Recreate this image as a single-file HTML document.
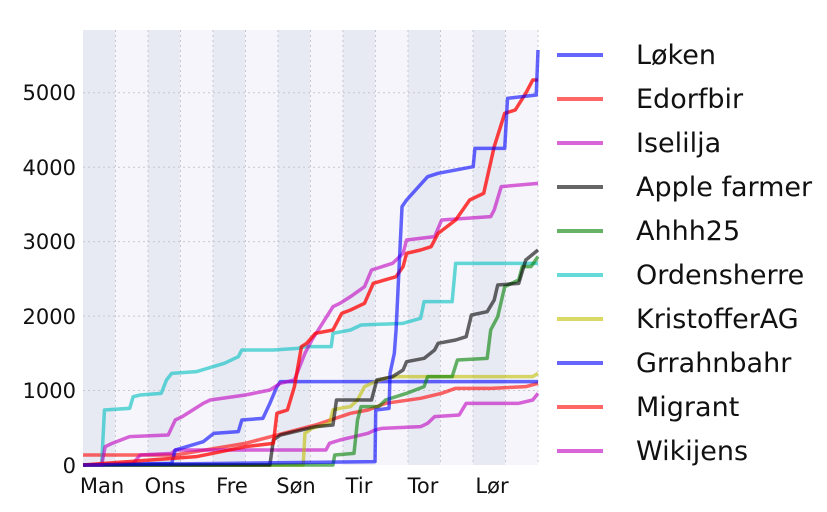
<!DOCTYPE html>
<html><head><meta charset="utf-8"><style>
html,body{margin:0;padding:0;background:#fff;width:827px;height:512px;overflow:hidden}
svg{position:absolute;left:0;top:0}
text{font-family:"DejaVu Sans","Liberation Sans",sans-serif;fill:#111}
</style></head><body>
<svg width="827" height="512" viewBox="0 0 827 512">
<rect x="83" y="30" width="455" height="435" fill="#f5f5fb"/>
<g fill="#e7e9f3">
<rect x="83" y="30" width="32" height="435"/><rect x="148" y="30" width="32" height="435"/>
<rect x="213" y="30" width="32" height="435"/><rect x="278" y="30" width="32" height="435"/>
<rect x="343" y="30" width="32" height="435"/><rect x="408" y="30" width="32" height="435"/>
<rect x="473" y="30" width="32" height="435"/>
</g>
<g stroke="#c8c8d0" stroke-width="1" stroke-dasharray="2,3">
<line x1="83" x2="538" y1="92.7" y2="92.7"/><line x1="83" x2="538" y1="167.2" y2="167.2"/>
<line x1="83" x2="538" y1="241.6" y2="241.6"/><line x1="83" x2="538" y1="316.1" y2="316.1"/>
<line x1="83" x2="538" y1="390.5" y2="390.5"/>
<line x1="115.5" x2="115.5" y1="30" y2="465"/><line x1="148" x2="148" y1="30" y2="465"/>
<line x1="180.5" x2="180.5" y1="30" y2="465"/><line x1="213" x2="213" y1="30" y2="465"/>
<line x1="245.5" x2="245.5" y1="30" y2="465"/><line x1="278" x2="278" y1="30" y2="465"/>
<line x1="310.5" x2="310.5" y1="30" y2="465"/><line x1="343" x2="343" y1="30" y2="465"/>
<line x1="375.5" x2="375.5" y1="30" y2="465"/><line x1="408" x2="408" y1="30" y2="465"/>
<line x1="440.5" x2="440.5" y1="30" y2="465"/><line x1="473" x2="473" y1="30" y2="465"/>
<line x1="505.5" x2="505.5" y1="30" y2="465"/><line x1="538" x2="538" y1="30" y2="465"/>
</g>
<g transform="translate(0,20) scale(0.3505,0.33333)" fill="none" stroke-width="3.5" stroke-linejoin="round" stroke-opacity="0.6">
<polyline vector-effect="non-scaling-stroke" stroke="#ff0000" points="237,1305 500,1305 700,1270 900,1215 1000,1180 1050,1170 1100,1150 1200,1135 1260,1120 1300,1105 1400,1105 1500,1100 1535,1090"/>
<polyline vector-effect="non-scaling-stroke" stroke="#bf00bf" points="237,1335 380,1330 400,1305 490,1300 500,1290 930,1290 940,1270 970,1260 1010,1250 1050,1240 1070,1230 1090,1225 1200,1220 1220,1210 1240,1190 1310,1185 1330,1150 1480,1150 1520,1140 1535,1120"/>
<polyline vector-effect="non-scaling-stroke" stroke="#0000ff" points="237,1335 490,1330 500,1290 580,1265 610,1240 680,1235 690,1200 750,1195 770,1150 790,1100 800,1085 850,1085 1535,1085"/>
<polyline vector-effect="non-scaling-stroke" stroke="#bfbf00" points="237,1335 865,1335 870,1240 890,1225 940,1210 950,1170 970,1165 1000,1160 1020,1140 1040,1100 1070,1085 1100,1075 1130,1070 1520,1070 1535,1060"/>
<polyline vector-effect="non-scaling-stroke" stroke="#00bfbf" points="237,1335 290,1335 298,1170 370,1165 380,1130 400,1125 460,1120 475,1080 490,1060 560,1055 640,1030 680,1010 690,990 780,990 850,985 870,980 945,980 950,940 1000,930 1030,915 1150,910 1200,895 1210,845 1290,845 1300,730 1535,730"/>
<polyline vector-effect="non-scaling-stroke" stroke="#008000" points="237,1335 950,1335 955,1305 1010,1300 1020,1200 1030,1160 1080,1160 1100,1140 1160,1120 1210,1100 1220,1070 1290,1070 1305,1020 1390,1015 1400,930 1420,890 1440,800 1480,780 1490,740 1515,740 1535,710"/>
<polyline vector-effect="non-scaling-stroke" stroke="#000000" points="237,1335 770,1335 780,1260 800,1245 900,1220 950,1215 960,1140 1060,1140 1075,1080 1120,1070 1150,1050 1160,1025 1210,1015 1240,990 1250,970 1300,960 1330,950 1345,885 1390,875 1410,840 1420,795 1480,790 1500,720 1535,690"/>
<polyline vector-effect="non-scaling-stroke" stroke="#bf00bf" points="237,1335 290,1335 300,1280 320,1270 370,1250 480,1245 500,1200 520,1190 550,1170 580,1150 600,1140 700,1125 770,1110 800,1090 840,1080 870,1000 890,960 950,860 970,850 1000,830 1040,800 1060,750 1120,730 1150,700 1160,660 1240,650 1260,600 1400,590 1410,570 1430,500 1535,490"/>
<polyline vector-effect="non-scaling-stroke" stroke="#ff0000" stroke-opacity="0.75" points="237,1335 560,1310 700,1280 780,1270 790,1180 820,1170 840,1100 860,980 875,970 900,940 950,930 975,880 1000,870 1040,850 1065,790 1130,770 1150,740 1160,700 1200,690 1230,680 1250,640 1300,600 1340,540 1380,520 1410,380 1440,280 1470,270 1500,220 1520,180 1535,180"/>
<polyline vector-effect="non-scaling-stroke" stroke="#0000ff" points="237,1335 1070,1325 1072,1170 1110,1165 1113,1059 1125,1000 1130,930 1147,560 1160,540 1220,470 1250,460 1350,440 1355,385 1440,385 1448,235 1530,225 1535,90"/>
</g>
<g font-size="21" text-anchor="end">
<text x="76" y="473">0</text><text x="76" y="398">1000</text><text x="76" y="324">2000</text>
<text x="76" y="249">3000</text><text x="76" y="175">4000</text><text x="76" y="100">5000</text>
</g>
<g font-size="21" text-anchor="middle">
<text x="102" y="493">Man</text><text x="165" y="493">Ons</text><text x="232" y="493">Fre</text>
<text x="296" y="493">Søn</text><text x="359" y="493">Tir</text><text x="423" y="493">Tor</text><text x="492" y="493">Lør</text>
</g>
<g stroke-width="4" stroke-opacity="0.6">
<line x1="557" x2="603" y1="55" y2="55" stroke="#0000ff"/>
<line x1="557" x2="603" y1="99" y2="99" stroke="#ff0000"/>
<line x1="557" x2="603" y1="143" y2="143" stroke="#bf00bf"/>
<line x1="557" x2="603" y1="187" y2="187" stroke="#000"/>
<line x1="557" x2="603" y1="231" y2="231" stroke="#008000"/>
<line x1="557" x2="603" y1="275" y2="275" stroke="#00bfbf"/>
<line x1="557" x2="603" y1="319" y2="319" stroke="#bfbf00"/>
<line x1="557" x2="603" y1="363" y2="363" stroke="#0000ff"/>
<line x1="557" x2="603" y1="407" y2="407" stroke="#ff0000"/>
<line x1="557" x2="603" y1="451" y2="451" stroke="#bf00bf"/>
</g>
<g font-size="27">
<text x="636" y="64">Løken</text><text x="636" y="108">Edorfbir</text><text x="636" y="152">Iselilja</text>
<text x="636" y="196">Apple farmer</text><text x="636" y="240">Ahhh25</text><text x="636" y="284">Ordensherre</text>
<text x="636" y="328">KristofferAG</text><text x="636" y="372">Grrahnbahr</text><text x="636" y="416">Migrant</text>
<text x="636" y="460">Wikijens</text>
</g>
</svg>
</body></html>
